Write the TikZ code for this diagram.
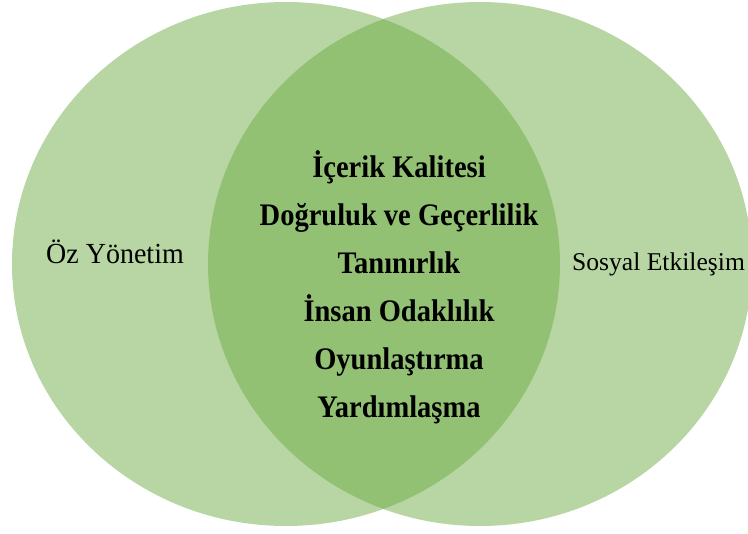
\documentclass[tikz,border=0pt]{standalone}
\usepackage{fontspec}
\setmainfont{Liberation Serif}
\definecolor{venngreen}{HTML}{70AD47}
\newcommand{\tallbold}[1]{\scalebox{1}[1.1]{#1}}
\begin{document}
\begin{tikzpicture}[x=1pt,y=-1pt,
  setfill/.style={fill=venngreen,fill opacity=0.5,draw=none},
  setlabel/.style={inner sep=0pt,anchor=base,text=black},
  corelabel/.style={inner sep=0pt,anchor=base,text=black,font=\fontsize{28.5}{34}\selectfont\bfseries}]
\useasboundingbox (0,0) rectangle (748,534);
% the two sets
\fill[setfill] (286,264) ellipse [x radius=274, y radius=262];
\fill[setfill] (480,264) ellipse [x radius=272, y radius=262];
% set names
\node[setlabel,font=\fontsize{28}{34}\selectfont] (oz) at (115,264) {\scalebox{1}[1.04]{Öz Yönetim}};
\node[setlabel,font=\fontsize{25.6}{30}\selectfont] (sosyal) at (658.5,271) {Sosyal Etkileşim};
% shared items
\node[corelabel] (c1) at (399,178) {\tallbold{İçerik Kalitesi}};
\node[corelabel] (c2) at (399,226) {\tallbold{Doğruluk ve Geçerlilik}};
\node[corelabel] (c3) at (399,274) {\tallbold{Tanınırlık}};
\node[corelabel] (c4) at (399,322) {\tallbold{İnsan Odaklılık}};
\node[corelabel] (c5) at (399,370) {\tallbold{Oyunlaştırma}};
\node[corelabel] (c6) at (399,418) {\tallbold{Yardımlaşma}};
\end{tikzpicture}
\end{document}
